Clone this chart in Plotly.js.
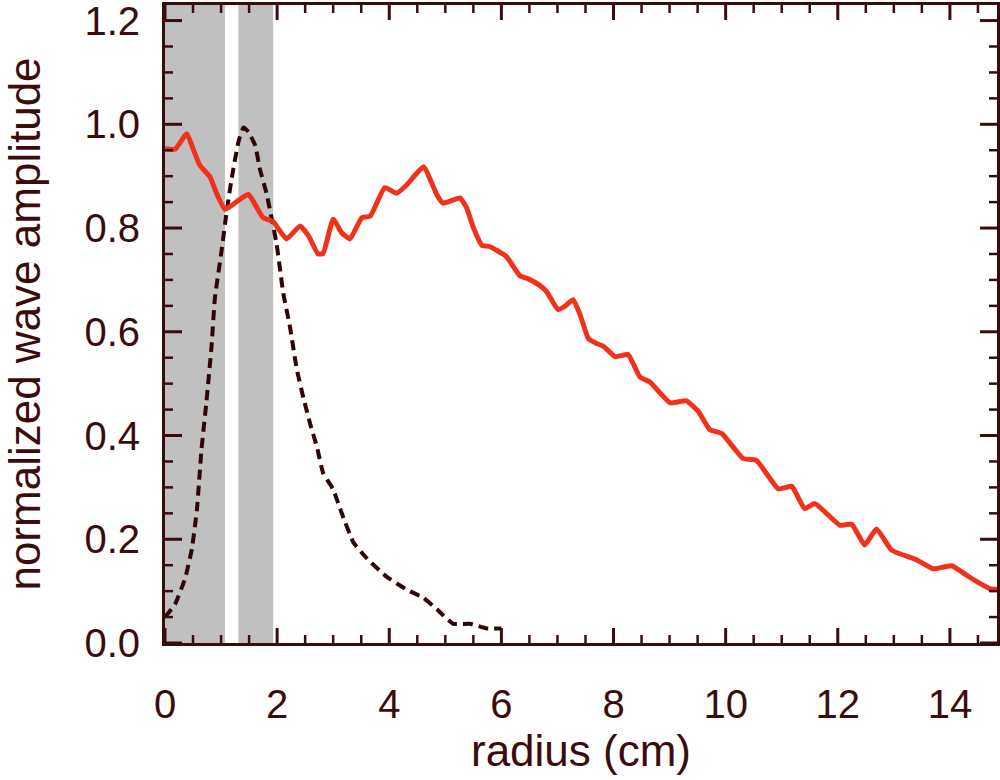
<!DOCTYPE html>
<html>
<head>
<meta charset="utf-8">
<script src="https://cdn.plot.ly/plotly-3.0.1.min.js"></script>
<style>
  html, body { margin: 0; padding: 0; background: #ffffff; }
  #chart { width: 1000px; height: 780px; }
</style>
</head>
<body>
<div id="chart"></div>
<script>
// Solid red curve: radius (cm) and normalized wave amplitude
const radiusSolid = [0.00, 0.18, 0.39, 0.50, 0.62, 0.80, 0.92, 1.07, 1.28, 1.49, 1.64, 1.75, 1.93,
  2.17, 2.41, 2.56, 2.73, 2.82, 3.00, 3.15, 3.30, 3.51, 3.66, 3.92, 4.13, 4.31, 4.61, 4.85, 4.96,
  5.26, 5.38, 5.50, 5.65, 5.80, 6.09, 6.33, 6.48, 6.69, 6.81, 7.01, 7.13, 7.28, 7.40, 7.55, 7.67,
  7.82, 8.03, 8.26, 8.47, 8.65, 9.01, 9.30, 9.51, 9.72, 9.93, 10.31, 10.55, 10.94, 11.18, 11.41,
  11.59, 12.04, 12.25, 12.48, 12.69, 12.96, 13.41, 13.70, 14.03, 14.42, 14.71, 14.89];
const ampSolid = [0.953, 0.952, 0.982, 0.953, 0.921, 0.899, 0.867, 0.836, 0.851, 0.865, 0.839, 0.820, 0.812,
  0.779, 0.804, 0.785, 0.750, 0.751, 0.817, 0.791, 0.779, 0.820, 0.823, 0.878, 0.867, 0.883, 0.918, 0.864, 0.848,
  0.858, 0.839, 0.801, 0.767, 0.764, 0.745, 0.708, 0.702, 0.689, 0.677, 0.643, 0.649, 0.662, 0.634, 0.587, 0.579,
  0.572, 0.552, 0.556, 0.513, 0.503, 0.463, 0.467, 0.447, 0.411, 0.404, 0.356, 0.352, 0.297, 0.302, 0.259,
  0.269, 0.227, 0.229, 0.189, 0.220, 0.179, 0.160, 0.143, 0.149, 0.122, 0.105, 0.103];

// Dashed dark curve
const radiusDashed = [0.00, 0.18, 0.36, 0.48, 0.57, 0.65, 0.74, 0.83, 0.89, 1.01, 1.10, 1.19, 1.31, 1.40,
  1.49, 1.61, 1.69, 1.81, 1.90, 1.99, 2.11, 2.23, 2.35, 2.47, 2.59, 2.71, 2.82, 3.00, 3.15, 3.36,
  3.60, 3.95, 4.31, 4.61, 4.85, 5.14, 5.44, 5.74, 6.00];
const ampDashed = [0.050, 0.075, 0.125, 0.182, 0.258, 0.372, 0.466, 0.572, 0.665, 0.757, 0.832, 0.896, 0.966, 0.994,
  0.985, 0.959, 0.915, 0.867, 0.820, 0.770, 0.674, 0.609, 0.528, 0.472, 0.422, 0.378, 0.328, 0.296, 0.251, 0.194,
  0.163, 0.128, 0.103, 0.087, 0.065, 0.037, 0.037, 0.028, 0.028];

// Shaded radial bands (cm)
const bandStart = [0.0, 1.31];
const bandEnd = [1.07, 1.93];

// Axis ranges and tick spacing
const xRange = [0, 14.84];
const yRange = [0, 1.23];
const xMajorStep = 2, xMinorPerMajor = 4;
const yMajorStep = 0.2, yMinorPerMajor = 4;

const ink = '#3c0c0c';
const red = '#f0321a';
const fam = '"Liberation Sans", Arial, Helvetica, sans-serif';

const W = 1000, H = 780;
const margin = { l: 165, r: 3, t: 5, b: 137 };
const plotW = W - margin.l - margin.r, plotH = H - margin.t - margin.b;

// Inward tick marks on all four sides as line shapes (paper fractions for lengths)
function tickShapes() {
  const out = [];
  const xMinor = xMajorStep / xMinorPerMajor, yMinor = yMajorStep / yMinorPerMajor;
  for (let i = 0; i * xMinor <= xRange[1] + 1e-9; i++) {
    const major = i % xMinorPerMajor === 0;
    const v = i * xMinor;
    const f = (major ? 15 : 8) / plotH;
    const st = { color: ink, width: major ? 3 : 2.5 };
    out.push({ type: 'line', xref: 'x', yref: 'paper', x0: v, x1: v, y0: 0, y1: f, line: st, layer: 'above' });
    out.push({ type: 'line', xref: 'x', yref: 'paper', x0: v, x1: v, y0: 1, y1: 1 - f, line: st, layer: 'above' });
  }
  for (let i = 0; i * yMinor <= yRange[1] + 1e-9; i++) {
    const major = i % yMinorPerMajor === 0;
    const v = i * yMinor;
    const f = (major ? 17 : 8) / plotW;
    const st = { color: ink, width: major ? 3 : 2.5 };
    out.push({ type: 'line', xref: 'paper', yref: 'y', x0: 0, x1: f, y0: v, y1: v, line: st, layer: 'above' });
    out.push({ type: 'line', xref: 'paper', yref: 'y', x0: 1, x1: 1 - f, y0: v, y1: v, line: st, layer: 'above' });
  }
  return out;
}

const traces = [
  {
    x: radiusDashed, y: ampDashed, type: 'scatter', mode: 'lines',
    line: { color: '#2e0606', width: 4, dash: '10px,6px', shape: 'spline', smoothing: 0.4 },
    hoverinfo: 'skip'
  },
  {
    x: radiusSolid, y: ampSolid, type: 'scatter', mode: 'lines',
    line: { color: red, width: 5, shape: 'spline', smoothing: 0.4 },
    hoverinfo: 'skip'
  }
];

const bandShapes = bandStart.map((s, i) => ({
  type: 'rect', xref: 'x', yref: 'paper', x0: s, x1: bandEnd[i], y0: 0, y1: 1,
  fillcolor: '#c0c0c0', line: { width: 0 }, layer: 'below'
}));

const layout = {
  width: W, height: H,
  margin: margin,
  showlegend: false,
  font: { family: fam, color: ink },
  shapes: bandShapes.concat(tickShapes()),
  xaxis: {
    range: xRange,
    tickmode: 'linear', tick0: 0, dtick: xMajorStep,
    ticks: '',
    showline: true, linecolor: ink, linewidth: 3, mirror: true,
    showgrid: false, zeroline: false,
    tickfont: { size: 40, color: ink, family: fam },
    ticklabelstandoff: 24,
    title: { text: 'radius (cm)', font: { size: 44, color: ink, family: fam }, standoff: 10 }
  },
  yaxis: {
    range: yRange,
    tickmode: 'linear', tick0: 0, dtick: yMajorStep, tickformat: '.1f',
    ticks: '',
    showline: true, linecolor: ink, linewidth: 3, mirror: true,
    showgrid: false, zeroline: false,
    tickfont: { size: 40, color: ink, family: fam },
    ticklabelstandoff: 14,
    ticklabeloverflow: 'allow',
    title: { text: 'normalized wave amplitude', font: { size: 44, color: ink, family: fam }, standoff: 30 }
  }
};

Plotly.newPlot('chart', traces, layout, { displayModeBar: false, staticPlot: true });
</script>
</body>
</html>
